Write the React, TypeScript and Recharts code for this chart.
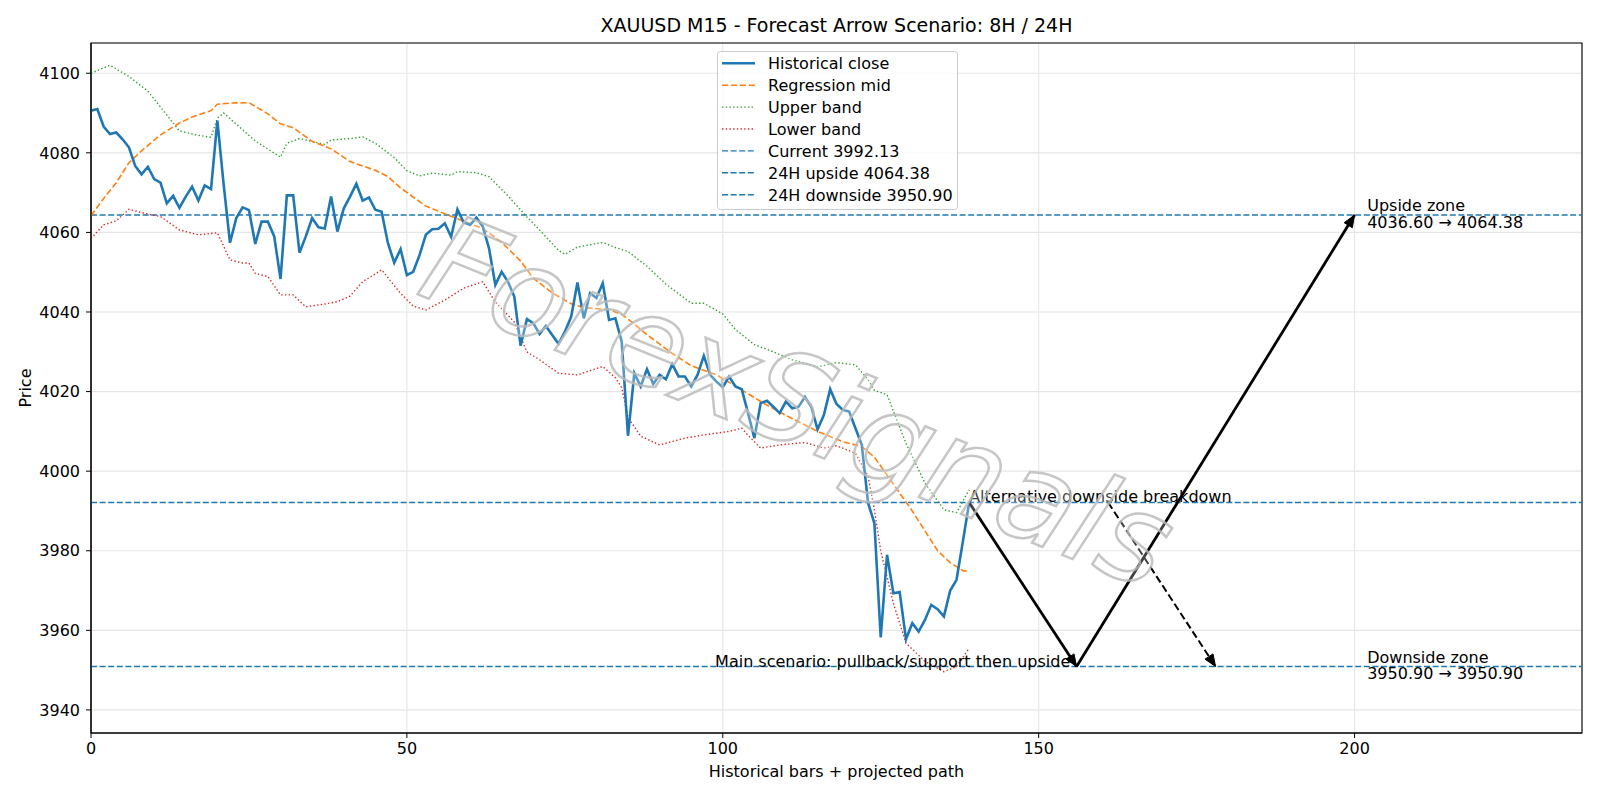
import React from "react";
import {
  ComposedChart,
  Line,
  XAxis,
  YAxis,
  CartesianGrid,
  ReferenceLine,
  ReferenceArea,
  ReferenceDot,
} from "recharts";

// historical closes, bar 0..139
const closes = [
  4090.6, 4091, 4086.6, 4084.7, 4085.1, 4083.4, 4081.4, 4076.7, 4074.6, 4076.5,
  4073.4, 4072.5, 4067.3, 4069.2, 4066.2, 4069, 4071.5, 4068, 4071.8, 4070.9,
  4088.1, 4072, 4057.4, 4063.6, 4066.3, 4065.6, 4057.1, 4062.7, 4062.7, 4059,
  4048.3, 4069.3, 4069.3, 4054.9, 4059, 4063.6, 4061.3, 4061, 4069, 4060.2,
  4066, 4069, 4072.2, 4068, 4068.8, 4065.7, 4065.2, 4057.3, 4052.4, 4055.8,
  4049.3, 4050.1, 4054.3, 4059.4, 4060.8, 4060.9, 4062.3, 4058.9, 4065.8, 4062.5,
  4061.9, 4063.7, 4061.5, 4056, 4046.8, 4050.1, 4047.6, 4043.9, 4031.5, 4038.2,
  4037.2, 4034.5, 4036.5, 4034.2, 4032, 4035, 4038.8, 4047.4, 4038.4, 4044.7,
  4043.5, 4047.2, 4038, 4038.4, 4032.6, 4008.9, 4024.6, 4021.3, 4025.6, 4021.9,
  4024.2, 4023.1, 4026.9, 4023.8, 4023.8, 4021.3, 4024.2, 4029, 4024.2, 4022.5,
  4021.1, 4023.8, 4021.3, 4020.6, 4014.6, 4008.3, 4017.1, 4017.7, 4016.2, 4014.6,
  4017.5, 4015.8, 4016.2, 4018.6, 4016.2, 4010.5, 4014.1, 4020.6, 4016.9, 4015.4,
  4015, 4010.8, 4006.6, 3992, 3986.9, 3958.2, 3979, 3969.3, 3969.6, 3957.8,
  3961.8, 3959.7, 3962.6, 3966.4, 3965.3, 3963.5, 3970, 3972.7, 3982.3, 3992.13,
];

// [bar, price] readings of the smooth curves
const midPath: [number, number][] = [
  [0, 4064.2], [2, 4068.5], [4, 4072.5], [6, 4077.5], [8, 4080.5], [11, 4084.5],
  [14, 4087.5], [16, 4089], [19, 4090.6], [20, 4092.2], [22, 4092.5], [25, 4092.6],
  [28, 4089.8], [30, 4087.3], [32, 4086.3], [35, 4082.9], [38, 4081], [41, 4077.8],
  [45, 4075.6], [47, 4074], [49, 4071.2], [53, 4066.6], [56, 4064.7], [59, 4062.8],
  [62, 4061], [65, 4057.5], [68, 4052.8], [70, 4048.5], [73, 4044.8], [76, 4042.1],
  [78, 4041.1], [82, 4040.6], [84, 4039.4], [86, 4037], [88, 4034.3], [92, 4029.6],
  [95, 4026.5], [99, 4024.2], [102, 4021.4], [106, 4017.5], [110, 4014], [115, 4010],
  [119, 4007.4], [122, 4006.2], [124, 4003.5], [126, 3999], [128, 3994.5], [130, 3990],
  [132, 3985], [134, 3980], [136, 3977], [138, 3975], [139, 3974.8],
];

const upperPath: [number, number][] = [
  [0, 4100], [3, 4102], [6, 4099.2], [9, 4095.5], [11, 4091.5], [14, 4085.5],
  [17, 4084.4], [19, 4083.9], [20, 4088.7], [21, 4090], [26, 4083], [30, 4078.9],
  [31, 4082.4], [33, 4083.6], [37, 4082.1], [38, 4083.2], [41, 4083.6], [43, 4084],
  [45, 4082.4], [48, 4078.8], [50, 4075.5], [52, 4074.2], [54, 4074.9], [57, 4074.4],
  [58, 4075.3], [61, 4075], [63, 4074], [66, 4069.2], [69, 4063.9], [71, 4060.6],
  [74, 4055.5], [75, 4054.5], [77, 4056.3], [81, 4057.5], [83, 4056.2], [85, 4055.2],
  [88, 4051.5], [91, 4047], [95, 4042.2], [97, 4042.2], [100, 4039.5], [102, 4035.6],
  [105, 4031.8], [108, 4030], [111, 4028], [115, 4026.2], [118, 4027.3], [121, 4026.7],
  [123, 4023], [124, 4020.3], [126, 4019.2], [129, 4007], [132, 3997], [135, 3990.3],
  [137, 3989.6], [139, 3995.3],
];

const lowerPath: [number, number][] = [
  [0, 4058.5], [2, 4061.9], [4, 4062.9], [6, 4065.8], [9, 4064.6], [11, 4064],
  [14, 4060.6], [17, 4059.4], [20, 4059.9], [22, 4053.1], [24, 4052.3], [25, 4052.3],
  [26, 4049.7], [28, 4048.9], [30, 4044.3], [32, 4044.3], [34, 4041.3], [37, 4042],
  [39, 4042.6], [41, 4044], [43, 4047.6], [46, 4050.6], [49, 4044.7], [51, 4041.5],
  [53, 4040.5], [56, 4043], [59, 4046], [62, 4047.6], [64, 4042.5], [67, 4037.5],
  [69, 4030], [71, 4028], [74, 4024.6], [77, 4024.2], [81, 4026.3], [83, 4023.5],
  [84, 4021], [85, 4013.5], [87, 4008.8], [90, 4006.6], [94, 4008.3], [97, 4009.1],
  [101, 4010], [103, 4010.8], [104, 4009], [106, 4005.8], [109, 4006.6], [113, 4007.2],
  [116, 4005.8], [118, 4006.4], [121, 4004.5], [123, 3998.7], [124, 3990.3], [125, 3980],
  [127, 3966.8], [129, 3956.8], [132, 3952.2], [135, 3949.6], [137, 3950.9], [139, 3955.5],
];

const currentPrice = 3992.13;
const upside24h = 4064.38;
const downside24h = 3950.9;

// projected arrows [bar, price]
const mainLeg1: [number, number][] = [[139, 3992.13], [156, 3950.9]];
const mainLeg2: [number, number][] = [[156, 3950.9], [200, 4064.38]];
const altLeg: [number, number][] = [[161, 3992.13], [178, 3950.9]];

const xTicks = [0, 50, 100, 150, 200];
const yTicks = [3940, 3960, 3980, 4000, 4020, 4040, 4060, 4080, 4100];
const xDomain: [number, number] = [0, 236];
const yDomain: [number, number] = [3934.2, 4107.6];

const FONT = "DejaVu Sans";
const FS = 16;
const BLUE = "#1f77b4";

const toPts = (p: [number, number][]) => p.map(([x, y]) => ({ x, y }));
const closeData = closes.map((y, x) => ({ x, y }));

const makeArrowHead = (color: string) => {
  let prev = { x: 0, y: 0 };
  return (props: any) => {
    const { cx, cy, index, points } = props;
    if (index === 0) {
      prev = { x: cx, y: cy };
      return <g key={`a${index}`} />;
    }
    const from = points && points[index - 1] ? points[index - 1] : prev;
    const ang = Math.atan2(cy - from.y, cx - from.x);
    const len = 12;
    const half = 4.8;
    const bx = cx - len * Math.cos(ang);
    const by = cy - len * Math.sin(ang);
    const px = -Math.sin(ang) * half;
    const py = Math.cos(ang) * half;
    return (
      <polygon
        key={`a${index}`}
        points={`${cx},${cy} ${bx + px},${by + py} ${bx - px},${by - py}`}
        fill={color}
        stroke={color}
        strokeWidth={1}
        strokeDasharray="none"
      />
    );
  };
};

const legendItems = [
  { label: "Historical close", color: BLUE, dash: "none", w: 2.6 },
  { label: "Regression mid", color: "#ff7f0e", dash: "6.2 2.7", w: 1.6 },
  { label: "Upper band", color: "#2ca02c", dash: "1.4 2.3", w: 1.4 },
  { label: "Lower band", color: "#d62728", dash: "1.4 2.3", w: 1.4 },
  { label: "Current 3992.13", color: BLUE, dash: "6 2.6", w: 1.4 },
  { label: "24H upside 4064.38", color: BLUE, dash: "6 2.6", w: 1.4 },
  { label: "24H downside 3950.90", color: BLUE, dash: "6 2.6", w: 1.4 },
];

const textLabel = (lines: string[], anchor: "start" | "end", dy: number[]) => (p: any) => (
  <text x={p.cx} y={p.cy} textAnchor={anchor} fontFamily={FONT} fontSize={FS} fill="#000">
    {lines.map((t, i) => (
      <tspan key={i} x={p.cx} dy={dy[i]}>
        {t}
      </tspan>
    ))}
  </text>
);

export default function App() {
  const tick = { fill: "#000", fontSize: FS, fontFamily: FONT };
  return (
    <div style={{ position: "absolute", left: 0, top: 0, width: 1600, height: 800, background: "#fff" }}>
      <ComposedChart width={1600} height={800} margin={{ top: 43, right: 18, bottom: 0, left: 0 }}>
        <CartesianGrid stroke="#e6e6e6" strokeWidth={1.1} />
        <XAxis
          type="number"
          dataKey="x"
          domain={xDomain}
          ticks={xTicks}
          allowDataOverflow
          height={67}
          tick={tick}
          tickSize={5}
          tickMargin={5}
          tickLine={{ stroke: "#000" }}
          axisLine={{ stroke: "#000", strokeWidth: 1.1 }}
        />
        <YAxis
          type="number"
          domain={yDomain}
          ticks={yTicks}
          allowDataOverflow
          width={91}
          tick={tick}
          tickSize={5}
          tickMargin={6}
          tickLine={{ stroke: "#000" }}
          axisLine={{ stroke: "#000", strokeWidth: 1.1 }}
        />
        <ReferenceArea x1={0} x2={236} y1={yDomain[0]} y2={yDomain[1]} fill="none" stroke="#000" strokeWidth={1.1} />
        <ReferenceLine y={currentPrice} stroke={BLUE} strokeWidth={1.4} strokeDasharray="6 2.6" />
        <ReferenceLine y={upside24h} stroke={BLUE} strokeWidth={1.4} strokeDasharray="6 2.6" />
        <ReferenceLine y={downside24h} stroke={BLUE} strokeWidth={1.4} strokeDasharray="6 2.6" />
        <Line data={toPts(upperPath)} dataKey="y" stroke="#2ca02c" strokeWidth={1.4} strokeDasharray="1.4 2.3" dot={false} isAnimationActive={false} type="linear" />
        <Line data={toPts(lowerPath)} dataKey="y" stroke="#d62728" strokeWidth={1.4} strokeDasharray="1.4 2.3" dot={false} isAnimationActive={false} type="linear" />
        <Line data={toPts(midPath)} dataKey="y" stroke="#ff7f0e" strokeWidth={1.6} strokeDasharray="6.2 2.7" dot={false} isAnimationActive={false} type="linear" />
        <Line data={closeData} dataKey="y" stroke={BLUE} strokeWidth={2.6} dot={false} isAnimationActive={false} type="linear" />
        <Line data={toPts(mainLeg1)} dataKey="y" stroke="#000" strokeWidth={2.8} dot={makeArrowHead("#000")} isAnimationActive={false} type="linear" />
        <Line data={toPts(mainLeg2)} dataKey="y" stroke="#000" strokeWidth={2.8} dot={makeArrowHead("#000")} isAnimationActive={false} type="linear" />
        <Line data={toPts(altLeg)} dataKey="y" stroke="#000" strokeWidth={2} strokeDasharray="7.5 3.5" dot={makeArrowHead("#000")} isAnimationActive={false} type="linear" />
        <ReferenceDot x={139} y={currentPrice} r={0} shape={textLabel(["Alternative downside breakdown"], "start", [0])} />
        <ReferenceDot x={155} y={downside24h} r={0} shape={textLabel(["Main scenario: pullback/support then upside"], "end", [0])} />
        <ReferenceDot x={202} y={upside24h} r={0} shape={textLabel(["Upside zone", "4036.60 → 4064.38"], "start", [-3.5, 16.6])} />
        <ReferenceDot x={202} y={downside24h} r={0} shape={textLabel(["Downside zone", "3950.90 → 3950.90"], "start", [-3.5, 16.3])} />
      </ComposedChart>
      <svg width={1600} height={800} style={{ position: "absolute", left: 0, top: 0, pointerEvents: "none" }}>
        <text
          x={795}
          y={410}
          transform="rotate(22 795 410)"
          textAnchor="middle"
          dominantBaseline="middle"
          fontFamily={FONT}
          fontStyle="italic"
          fontSize={124}
          fill="rgba(255,255,255,0.3)"
          stroke="#bdbdbd"
          strokeWidth={2.5}
          opacity={0.85}
        >
          ForexSignals
        </text>
        <text x={836.5} y={32} textAnchor="middle" fontFamily={FONT} fontSize={19} fill="#000">
          XAUUSD M15 - Forecast Arrow Scenario: 8H / 24H
        </text>
        <text x={836.5} y={777} textAnchor="middle" fontFamily={FONT} fontSize={FS} fill="#000">
          Historical bars + projected path
        </text>
        <text x={31} y={388} textAnchor="middle" transform="rotate(-90 31 388)" fontFamily={FONT} fontSize={FS} fill="#000">
          Price
        </text>
        <rect x={717.5} y={51.5} width={240} height={158} rx={3} fill="rgba(255,255,255,0.8)" stroke="#cccccc" strokeWidth={1} />
        {legendItems.map((it, i) => {
          const cy = 63.3 + i * 21.9;
          return (
            <g key={it.label}>
              <line x1={722} x2={755} y1={cy} y2={cy} stroke={it.color} strokeWidth={it.w} strokeDasharray={it.dash} />
              <text x={768} y={cy + 5.8} fontFamily={FONT} fontSize={FS} fill="#000">
                {it.label}
              </text>
            </g>
          );
        })}
      </svg>
    </div>
  );
}
